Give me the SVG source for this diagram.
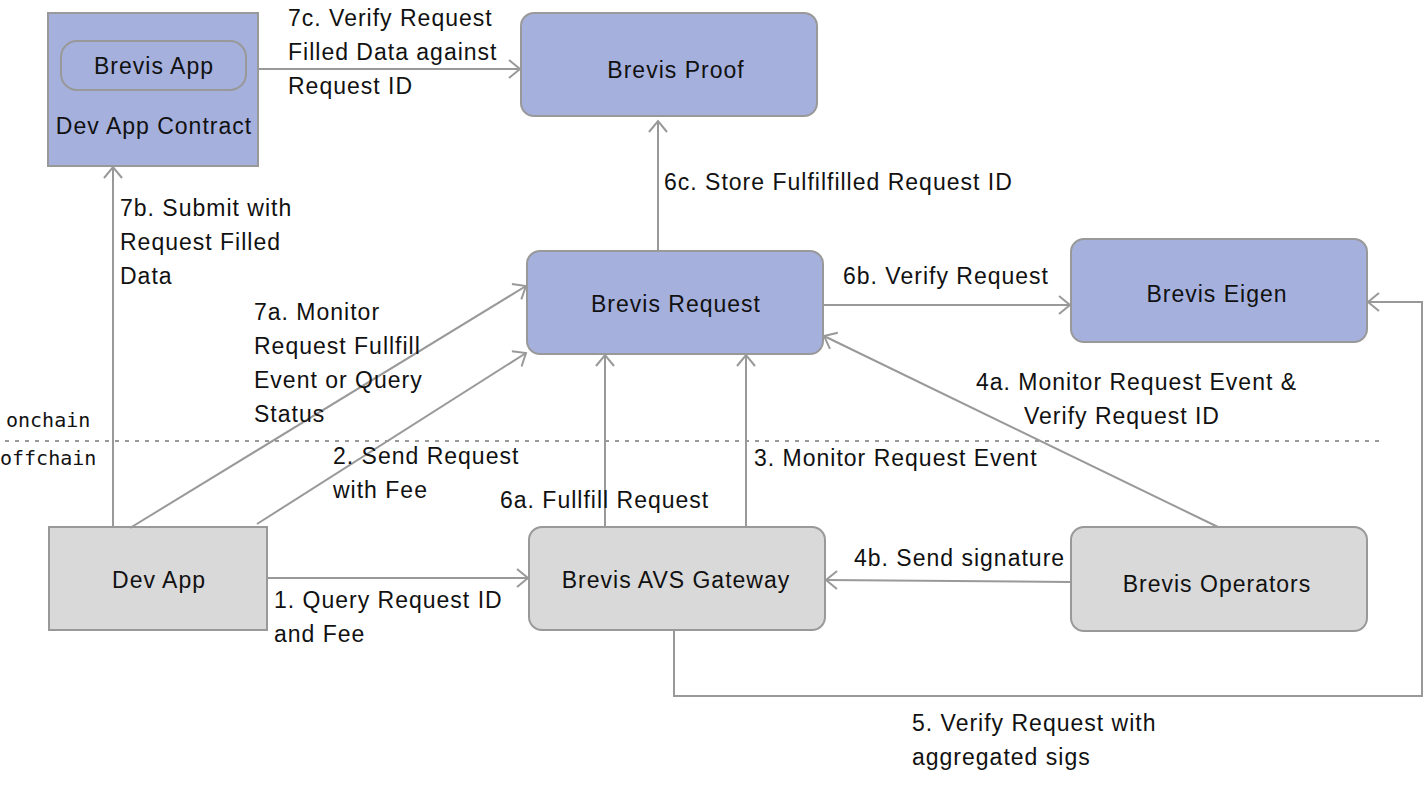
<svg xmlns="http://www.w3.org/2000/svg" width="1424" height="790" viewBox="0 0 1424 790">
<defs>
<marker id="arr" markerUnits="userSpaceOnUse" markerWidth="14" markerHeight="20" refX="12" refY="10" orient="auto" viewBox="0 0 14 20">
<path d="M1,1 L12,10 L1,19" fill="none" stroke="#999" stroke-width="2"/>
</marker>
<style>
.blue{fill:#a5b0dd;stroke:#999;stroke-width:2}
.gray{fill:#d9d9d9;stroke:#999;stroke-width:2}
.t{font-family:"Liberation Sans",Arial,sans-serif;font-size:23px;letter-spacing:1px;fill:#111;dominant-baseline:central}
.c{text-anchor:middle}
.ln{fill:none;stroke:#999;stroke-width:2}
.hand{font-family:"DejaVu Sans Mono",monospace;font-size:20px;fill:#111;dominant-baseline:central}
</style>
</defs>
<rect width="1424" height="790" fill="#fff"/>
<line x1="5" y1="441" x2="1380" y2="441" stroke="#999" stroke-width="2" stroke-dasharray="4,6"/>
<text class="hand" x="6" y="420">onchain</text>
<text class="hand" x="0" y="458">offchain</text>
<g id="dev-app-contract">
<rect class="blue" x="48" y="13" width="210" height="153"/>
<rect class="blue" x="61" y="41" width="185" height="49" rx="16"/>
<text class="t c" x="154" y="66">Brevis App</text>
<text class="t c" x="154" y="126">Dev App Contract</text>
</g>
<g id="brevis-proof">
<rect class="blue" x="521" y="13" width="296" height="103" rx="13"/>
<text class="t c" x="676" y="70">Brevis Proof</text>
</g>
<g id="brevis-request">
<rect class="blue" x="527" y="251" width="296" height="103" rx="13"/>
<text class="t c" x="676" y="304">Brevis Request</text>
</g>
<g id="brevis-eigen">
<rect class="blue" x="1071" y="239" width="296" height="103" rx="13"/>
<text class="t c" x="1217" y="294">Brevis Eigen</text>
</g>
<g id="dev-app">
<rect class="gray" x="49" y="527" width="218" height="103"/>
<text class="t c" x="159" y="580">Dev App</text>
</g>
<g id="brevis-avs-gateway">
<rect class="gray" x="529" y="527" width="296" height="103" rx="13"/>
<text class="t c" x="676" y="580">Brevis AVS Gateway</text>
</g>
<g id="brevis-operators">
<rect class="gray" x="1071" y="527" width="296" height="104" rx="13"/>
<text class="t c" x="1217" y="584">Brevis Operators</text>
</g>
<g id="connectors">
<line class="ln" x1="258" y1="69" x2="520" y2="69" marker-end="url(#arr)"/>
<line class="ln" x1="658" y1="251" x2="658" y2="121" marker-end="url(#arr)"/>
<line class="ln" x1="113" y1="527" x2="113" y2="167" marker-end="url(#arr)"/>
<line class="ln" x1="130" y1="528" x2="526" y2="286" marker-end="url(#arr)"/>
<line class="ln" x1="257" y1="524" x2="526" y2="353" marker-end="url(#arr)"/>
<line class="ln" x1="605" y1="527" x2="605" y2="355" marker-end="url(#arr)"/>
<line class="ln" x1="746" y1="527" x2="746" y2="355" marker-end="url(#arr)"/>
<line class="ln" x1="1218" y1="527" x2="824" y2="336" marker-end="url(#arr)"/>
<line class="ln" x1="823" y1="305" x2="1070" y2="305" marker-end="url(#arr)"/>
<line class="ln" x1="1071" y1="582" x2="826" y2="580" marker-end="url(#arr)"/>
<line class="ln" x1="267" y1="578" x2="528" y2="578" marker-end="url(#arr)"/>
<polyline class="ln" points="674,630 674,696 1422,696 1422,302 1368,302" marker-end="url(#arr)"/>
</g>
<g id="labels">
<text class="t" x="288" y="18">7c. Verify Request</text>
<text class="t" x="288" y="52">Filled Data against</text>
<text class="t" x="288" y="86">Request ID</text>
<text class="t" x="664" y="182">6c. Store Fulfilfilled Request ID</text>
<text class="t" x="120" y="208">7b. Submit with</text>
<text class="t" x="120" y="242">Request Filled</text>
<text class="t" x="120" y="276">Data</text>
<text class="t" x="254" y="312">7a. Monitor</text>
<text class="t" x="254" y="346">Request Fullfill</text>
<text class="t" x="254" y="380">Event or Query</text>
<text class="t" x="254" y="414">Status</text>
<text class="t" x="843" y="276">6b. Verify Request</text>
<text class="t" x="976" y="382">4a. Monitor Request Event &amp;</text>
<text class="t" x="1024" y="416">Verify Request ID</text>
<text class="t" x="333" y="456">2. Send Request</text>
<text class="t" x="333" y="490">with Fee</text>
<text class="t" x="754" y="458">3. Monitor Request Event</text>
<text class="t" x="500" y="500">6a. Fullfill Request</text>
<text class="t" x="854" y="558">4b. Send signature</text>
<text class="t" x="274" y="600">1. Query Request ID</text>
<text class="t" x="274" y="634">and Fee</text>
<text class="t" x="912" y="723">5. Verify Request with</text>
<text class="t" x="912" y="757">aggregated sigs</text>
</g>
</svg>
